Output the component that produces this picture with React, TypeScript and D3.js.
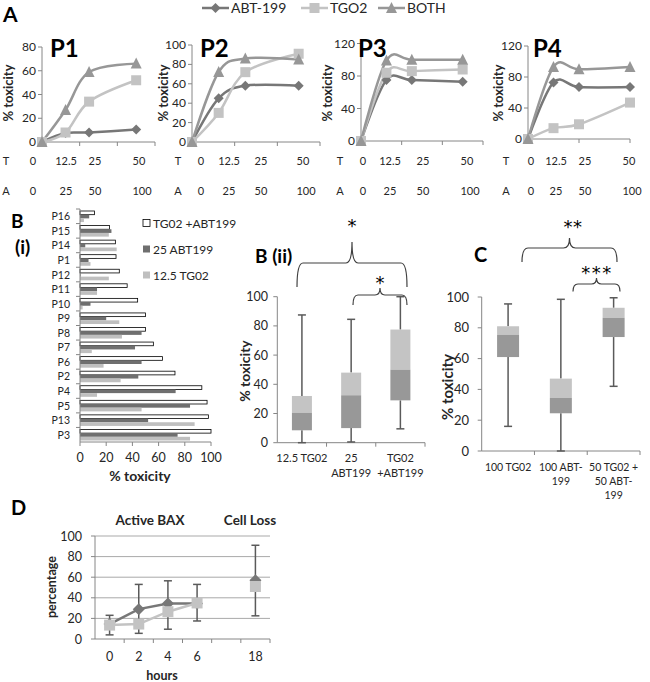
import React from 'react';
import * as d3 from 'd3';

const FONT = 'Lato, "Open Sans", Arial, sans-serif';
const STAR_FONT = '"DejaVu Sans", sans-serif';
const AXIS = '#868686';
const TXT = '#262626';
const C_ABT = '#777777';
const C_TGO = '#c3c3c3';
const C_BOTH = '#979797';
const WHISK = '#5a5a5a';
const BOX_HI = '#c4c4c4';
const BOX_LO = '#989898';

// ---------- Panel A ----------
const seriesA = ['ABT-199', 'TGO2', 'BOTH'];
const concX = [0, 12.5, 25, 50];
const tLabels = ['0', '12.5', '25', '50'];
const aLabels = ['0', '25', '50', '100'];
const patientsA = ['P1', 'P2', 'P3', 'P4'];
const p1Abt = [0, 7.5, 8, 10.5];
const p1Tgo = [0, 8, 34, 52];
const p1Both = [0, 27, 59, 66];
const p2Abt = [0, 45, 58, 58];
const p2Tgo = [0, 30, 72, 91];
const p2Both = [0, 72, 86, 85];
const p3Abt = [0, 75, 75, 73];
const p3Tgo = [0, 84, 86, 88];
const p3Both = [0, 99, 100, 100];
const p4Abt = [0, 73, 67, 67];
const p4Tgo = [0, 14, 19, 47];
const p4Both = [0, 93, 90, 93];
const yTicksP1 = [0, 20, 40, 60, 80];
const yTicksP2 = [0, 20, 40, 60, 80, 100];
const yTicksP34 = [0, 40, 80, 120];

// ---------- Panel B(i) ----------
const patientsB = ['P16', 'P15', 'P14', 'P1', 'P12', 'P11', 'P10', 'P9', 'P8', 'P7', 'P6', 'P2', 'P4', 'P5', 'P13', 'P3'];
const comboB = [11, 22.5, 27, 27.5, 30, 36, 44, 50, 50, 56, 63, 72.5, 93, 97, 98, 100];
const abtB = [7, 24, 4, 6.5, 0.5, 13, 8, 20, 47, 42, 47, 44.5, 73, 84, 52, 74.5];
const tgoB = [3, 22, 28, 8, 22, 13, 2, 30, 32, 9, 18, 31, 13, 47, 87.5, 84];
const seriesB = ['TG02 +ABT199', '25 ABT199', '12.5 TG02'];
const xTicksB = [0, 20, 40, 60, 80, 100];

// ---------- Panel B(ii) ----------
const boxCatsB = [['12.5 TG02'], ['25', 'ABT199'], ['TG02', '+ABT199']];
const boxMinB = [0, 0.5, 9.5];
const boxQ1B = [8.5, 10, 29];
const boxMedB = [20.5, 32.5, 50];
const boxQ3B = [32, 48, 77.5];
const boxMaxB = [87.5, 84.5, 100];

// ---------- Panel C ----------
const boxCatsC = [['100 TG02'], ['100 ABT-', '199'], ['50 TG02 +', '50 ABT-', '199']];
const boxMinC = [16, 0, 42];
const boxQ1C = [61, 24.5, 74];
const boxMedC = [75.5, 34.5, 86.5];
const boxQ3C = [81, 47, 93];
const boxMaxC = [95.5, 98.5, 99.5];
const yTicksBox = [0, 20, 40, 60, 80, 100];

// ---------- Panel D ----------
const hours = ['0', '2', '4', '6', '', '18'];
const baxDark: (number | null)[] = [14.5, 29, 34.5, 34.5, null, 57];
const baxLight: (number | null)[] = [13.5, 14.5, 26.5, 35, null, 51];
const errLow: (number | null)[] = [4, 5.5, 9.5, 17.5, null, 22.5];
const errHigh: (number | null)[] = [23, 53, 56.5, 53, null, 91];
const yTicksD = [0, 20, 40, 60, 80, 100];

const diamond = (cx: number, cy: number, r: number) => `M${cx},${cy - r}L${cx + r},${cy}L${cx},${cy + r}L${cx - r},${cy}Z`;
const square = (cx: number, cy: number, s: number) => `M${cx - s / 2},${cy - s / 2}h${s}v${s}h${-s}Z`;
const triangle = (cx: number, cy: number, s: number) => `M${cx},${cy - s * 0.55}L${cx + s / 2},${cy + s * 0.45}L${cx - s / 2},${cy + s * 0.45}Z`;

const brace = (x1: number, x2: number, y: number, yEnd: number, tipY: number, r = 6) => {
  const xm = (x1 + x2) / 2;
  return `M${x1},${yEnd}Q${x1},${y} ${x1 + r},${y}L${xm - r},${y}Q${xm},${y} ${xm},${tipY}Q${xm},${y} ${xm + r},${y}L${x2 - r},${y}Q${x2},${y} ${x2},${yEnd}`;
};

const layoutA = [
  { x0: 42, x1: 155, xMax: 60, xTicks: [20, 40, 60], y0: 142, y1: 47, yMax: 80, yTicks: yTicksP1, titleX: 50, ylabX: 8, rowX: [6, 33, 66, 95, 139] },
  { x0: 192, x1: 320, xMax: 60, xTicks: [20, 40, 60], y0: 142, y1: 45, yMax: 100, yTicks: yTicksP2, titleX: 200, ylabX: 163, rowX: [178, 201, 229, 261, 303] },
  { x0: 361, x1: 483, xMax: 60, xTicks: [20, 40, 60], y0: 141, y1: 43.5, yMax: 120, yTicks: yTicksP34, titleX: 358, ylabX: 327, rowX: [340, 363, 390, 423, 467] },
  { x0: 528, x1: 630, xMax: 50, xTicks: [25, 50], y0: 139, y1: 46, yMax: 120, yTicks: yTicksP34, titleX: 533, ylabX: 498, rowX: [506, 531, 556, 585, 629] },
];
const dataA = [
  [p1Abt, p1Tgo, p1Both],
  [p2Abt, p2Tgo, p2Both],
  [p3Abt, p3Tgo, p3Both],
  [p4Abt, p4Tgo, p4Both],
];

function PanelA({ idx }: { idx: number }) {
  const cfg = layoutA[idx];
  const [abt, tgo, both] = dataA[idx];
  const x = d3.scaleLinear().domain([0, cfg.xMax]).range([cfg.x0, cfg.x1]);
  const y = d3.scaleLinear().domain([0, cfg.yMax]).range([cfg.y0, cfg.y1]);
  const line = d3.line<number>().x((_, i) => x(concX[i])).y((d) => y(d)).curve(d3.curveCardinal.tension(0));
  return (
    <g>
      <line x1={cfg.x0} x2={cfg.x0} y1={cfg.y0} y2={cfg.y1} stroke={AXIS} />
      <line x1={cfg.x0} x2={cfg.x1} y1={cfg.y0} y2={cfg.y0} stroke={AXIS} />
      {cfg.yTicks.map((t) => (
        <g key={t}>
          <line x1={cfg.x0 - 4} x2={cfg.x0} y1={y(t)} y2={y(t)} stroke={AXIS} />
          <text x={cfg.x0 - 6} y={y(t) + 4} textAnchor="end" fontSize={12} fill={TXT}>{t}</text>
        </g>
      ))}
      {cfg.xTicks.map((t) => (
        <line key={t} x1={x(t)} x2={x(t)} y1={cfg.y0} y2={cfg.y0 + 4} stroke={AXIS} />
      ))}
      <path d={line(abt) || ''} fill="none" stroke={C_ABT} strokeWidth={2.5} />
      <path d={line(tgo) || ''} fill="none" stroke={C_TGO} strokeWidth={2.5} />
      <path d={line(both) || ''} fill="none" stroke={C_BOTH} strokeWidth={2.5} />
      {abt.map((d, i) => <path key={'a' + i} d={diamond(x(concX[i]), y(d), 5)} fill={C_ABT} />)}
      {tgo.map((d, i) => <path key={'t' + i} d={square(x(concX[i]), y(d), 10)} fill={C_TGO} />)}
      {both.map((d, i) => <path key={'b' + i} d={triangle(x(concX[i]), y(d), 11)} fill={C_BOTH} />)}
      <text x={cfg.titleX} y={57} fontSize={24} fontWeight="bold" fill="#000">{patientsA[idx]}</text>
      <text transform={`translate(${cfg.ylabX + 5},93) rotate(-90)`} textAnchor="middle" fontSize={13} fontWeight="bold" fill={TXT}>% toxicity</text>
      <text x={cfg.rowX[0]} y={165} textAnchor="middle" fontSize={11} fill={TXT}>T</text>
      <text x={cfg.rowX[0]} y={195} textAnchor="middle" fontSize={11} fill={TXT}>A</text>
      {tLabels.map((t, i) => <text key={'tl' + i} x={cfg.rowX[i + 1]} y={165} textAnchor="middle" fontSize={11} fill={TXT}>{t}</text>)}
      {aLabels.map((t, i) => <text key={'al' + i} x={cfg.rowX[i + 1] + (i === 3 ? 3 : 0)} y={195} textAnchor="middle" fontSize={11} fill={TXT}>{t}</text>)}
    </g>
  );
}

function LegendA() {
  const items = [
    { x: 202, col: C_ABT, mk: (cx: number) => diamond(cx, 8, 5) },
    { x: 301, col: C_TGO, mk: (cx: number) => square(cx, 8, 10) },
    { x: 378, col: C_BOTH, mk: (cx: number) => triangle(cx, 8, 11) },
  ];
  return (
    <g>
      {items.map((it, i) => (
        <g key={i}>
          <line x1={it.x} x2={it.x + 27} y1={8} y2={8} stroke={it.col} strokeWidth={2.5} />
          <path d={it.mk(it.x + 13.5)} fill={it.col} />
          <text x={it.x + 29} y={13} fontSize={14} fill={TXT}>{seriesA[i]}</text>
        </g>
      ))}
    </g>
  );
}

function PanelBi() {
  const x = d3.scaleLinear().domain([0, 100]).range([80, 211]);
  const y = d3.scaleBand().domain(patientsB).range([209, 442]);
  const sub = d3.scaleBand().domain(seriesB).range([2, y.bandwidth() - 1.5]);
  const vals = [comboB, abtB, tgoB];
  const fills = ['#ffffff', '#6f6f6f', '#bfbfbf'];
  return (
    <g>
      {patientsB.map((p, i) => (
        <g key={p}>
          {seriesB.map((s, j) => (
            <rect key={s} x={x(0)} y={(y(p) || 0) + (sub(s) || 0)} width={x(vals[j][i]) - x(0)} height={sub.bandwidth()}
              fill={fills[j]} stroke={j === 0 ? '#000' : 'none'} strokeWidth={0.8} />
          ))}
          <text x={70} y={(y(p) || 0) + y.bandwidth() / 2 + 4} textAnchor="end" fontSize={10.5} fill={TXT}>{p}</text>
        </g>
      ))}
      {patientsB.map((p) => (
        <line key={'t' + p} x1={76} x2={80} y1={y(p)} y2={y(p)} stroke={AXIS} />
      ))}
      <line x1={80} x2={80} y1={209} y2={442} stroke={AXIS} />
      <line x1={80} x2={211} y1={442} y2={442} stroke={AXIS} />
      {xTicksB.map((t) => (
        <g key={t}>
          <line x1={x(t)} x2={x(t)} y1={442} y2={446} stroke={AXIS} />
          <text x={x(t)} y={462} textAnchor="middle" fontSize={12.5} fill={TXT}>{t}</text>
        </g>
      ))}
      <text x={140} y={481} textAnchor="middle" fontSize={14} fontWeight="bold" fill={TXT}>% toxicity</text>
      {seriesB.map((s, j) => (
        <g key={s}>
          <rect x={143} y={219.5 + j * 26} width={7} height={7} fill={fills[j]} stroke={j === 0 ? '#000' : 'none'} strokeWidth={0.8} />
          <text x={153} y={227.5 + j * 26} fontSize={12} fill={TXT}>{s}</text>
        </g>
      ))}
    </g>
  );
}

function BoxPanel({ cats, mins, q1, med, q3, maxs, x0, x1, y0, y1, boxW, labelEnd, fs, catFs, catY, catDy }:
  { cats: string[][]; mins: number[]; q1: number[]; med: number[]; q3: number[]; maxs: number[]; x0: number; x1: number; y0: number; y1: number; boxW: number; labelEnd: number; fs: number; catFs: number; catY: number; catDy: number }) {
  const names = cats.map((c) => c.join(' '));
  const x = d3.scaleBand().domain(names).range([x0, x1]);
  const y = d3.scaleLinear().domain([0, 100]).range([y0, y1]);
  return (
    <g>
      <line x1={x0} x2={x0} y1={y0} y2={y1} stroke={AXIS} />
      <line x1={x0} x2={x1} y1={y0} y2={y0} stroke={AXIS} />
      {yTicksBox.map((t) => (
        <g key={t}>
          <line x1={x0 - 4} x2={x0} y1={y(t)} y2={y(t)} stroke={AXIS} />
          <text x={labelEnd} y={y(t) + 4.5} textAnchor="end" fontSize={fs} fill={TXT}>{t}</text>
        </g>
      ))}
      {names.map((n) => (
        <line key={'tk' + n} x1={(x(n) || 0) + x.bandwidth()} x2={(x(n) || 0) + x.bandwidth()} y1={y0} y2={y0 + 4} stroke={AXIS} />
      ))}
      {names.map((n, i) => {
        const cx = (x(n) || 0) + x.bandwidth() / 2;
        return (
          <g key={n}>
            <line x1={cx} x2={cx} y1={y(q3[i])} y2={y(maxs[i])} stroke={WHISK} strokeWidth={1.5} />
            <line x1={cx} x2={cx} y1={y(q1[i])} y2={y(mins[i])} stroke={WHISK} strokeWidth={1.5} />
            <line x1={cx - 4} x2={cx + 4} y1={y(maxs[i])} y2={y(maxs[i])} stroke={WHISK} strokeWidth={1.5} />
            <line x1={cx - 4} x2={cx + 4} y1={y(mins[i])} y2={y(mins[i])} stroke={WHISK} strokeWidth={1.5} />
            <rect x={cx - boxW / 2} y={y(q3[i])} width={boxW} height={y(med[i]) - y(q3[i])} fill={BOX_HI} />
            <rect x={cx - boxW / 2} y={y(med[i])} width={boxW} height={y(q1[i]) - y(med[i])} fill={BOX_LO} />
            {cats[i].map((ln, k) => (
              <text key={k} x={cx} y={catY + k * catDy} textAnchor="middle" fontSize={catFs} fill={TXT}>{ln}</text>
            ))}
          </g>
        );
      })}
    </g>
  );
}

function PanelD() {
  const x = d3.scaleBand().domain(hours.map((h, i) => 'c' + i)).range([95, 270]);
  const y = d3.scaleLinear().domain([0, 100]).range([639, 536]);
  const cx = (i: number) => (x('c' + i) || 0) + x.bandwidth() / 2;
  const line = d3.line<number | null>().defined((d) => d != null).x((_, i) => cx(i)).y((d) => y(d as number));
  return (
    <g>
      {yTicksD.filter((t) => t > 0).map((t) => (
        <line key={'g' + t} x1={95} x2={270} y1={y(t)} y2={y(t)} stroke="#a9a9a9" />
      ))}
      <line x1={95} x2={95} y1={639} y2={536} stroke={AXIS} />
      <line x1={95} x2={270} y1={639} y2={639} stroke={AXIS} />
      {yTicksD.map((t) => (
        <g key={t}>
          <line x1={91} x2={95} y1={y(t)} y2={y(t)} stroke={AXIS} />
          <text x={82} y={y(t) + 4.5} textAnchor="end" fontSize={12.5} fill={TXT}>{t}</text>
        </g>
      ))}
      {hours.map((h, i) => (
        <g key={'h' + i}>
          <line x1={(x('c' + i) || 0) + x.bandwidth()} x2={(x('c' + i) || 0) + x.bandwidth()} y1={639} y2={643} stroke={AXIS} />
          <text x={cx(i)} y={661} textAnchor="middle" fontSize={12.5} fill={TXT}>{h}</text>
        </g>
      ))}
      {errLow.map((lo, i) => lo == null ? null : (
        <g key={'e' + i}>
          <line x1={cx(i)} x2={cx(i)} y1={y(lo)} y2={y(errHigh[i] as number)} stroke={WHISK} strokeWidth={1.5} />
          <line x1={cx(i) - 4} x2={cx(i) + 4} y1={y(lo)} y2={y(lo)} stroke={WHISK} strokeWidth={1.5} />
          <line x1={cx(i) - 4} x2={cx(i) + 4} y1={y(errHigh[i] as number)} y2={y(errHigh[i] as number)} stroke={WHISK} strokeWidth={1.5} />
        </g>
      ))}
      <path d={line(baxDark) || ''} fill="none" stroke={C_ABT} strokeWidth={2.5} />
      {baxDark.map((d, i) => d == null ? null : <path key={'d' + i} d={diamond(cx(i), y(d), 6)} fill={C_ABT} />)}
      <path d={line(baxLight) || ''} fill="none" stroke={C_TGO} strokeWidth={2.5} />
      {baxLight.map((d, i) => d == null ? null : <path key={'l' + i} d={square(cx(i), y(d), 11)} fill={C_TGO} />)}
      <text transform="translate(56,587) rotate(-90)" textAnchor="middle" fontSize={12.5} fontWeight="bold" fill={TXT}>percentage</text>
      <text x={162} y={680} textAnchor="middle" fontSize={12.5} fontWeight="bold" fill={TXT}>hours</text>
      <text x={150} y={525} textAnchor="middle" fontSize={13.5} fontWeight="bold" fill={TXT}>Active BAX</text>
      <text x={250} y={525} textAnchor="middle" fontSize={13.5} fontWeight="bold" fill={TXT}>Cell Loss</text>
    </g>
  );
}

export default function App() {
  return (
    <svg width={650} height={682} style={{ position: 'absolute', left: 0, top: 0, background: '#fff' }} fontFamily={FONT}>
      <rect width={650} height={682} fill="#fff" />
      <text x={3} y={22} fontSize={21} fontWeight="bold" fill="#000">A</text>
      <LegendA />
      {layoutA.map((_, i) => <PanelA key={i} idx={i} />)}

      <text x={11} y={228} fontSize={19} fontWeight="bold" fill="#000">B</text>
      <text x={15} y={254} fontSize={19} fontWeight="bold" fill="#000">(i)</text>
      <PanelBi />

      <text x={255} y={263} fontSize={19} fontWeight="bold" fill="#000">B (ii)</text>
      <BoxPanel cats={boxCatsB} mins={boxMinB} q1={boxQ1B} med={boxMedB} q3={boxQ3B} maxs={boxMaxB}
        x0={277.3} x1={425} y0={442.7} y1={296.7} boxW={20} labelEnd={268} fs={12.5} catFs={11} catY={462} catDy={14.5} />
      <text transform="translate(250,371) rotate(-90)" textAnchor="middle" fontSize={14} fontWeight="bold" fill={TXT}>% toxicity</text>
      <path d={brace(297, 407, 263, 287, 242)} fill="none" stroke="#404040" strokeWidth={1.2} />
      <path d={brace(353, 407, 295, 305, 288, 5)} fill="none" stroke="#404040" strokeWidth={1.2} />
      <g fontFamily={STAR_FONT} fontSize={18} fill="#000" textAnchor="middle">
        <text x={352} y={232}>*</text>
        <text x={380} y={289}>*</text>
        <text x={573} y={233} letterSpacing={0.5}>**</text>
        <text x={597} y={279} letterSpacing={1.5}>***</text>
      </g>

      <text x={474} y={262} fontSize={20} fontWeight="bold" fill="#000">C</text>
      <BoxPanel cats={boxCatsC} mins={boxMinC} q1={boxQ1C} med={boxMedC} q3={boxQ3C} maxs={boxMaxC}
        x0={481.7} x1={640} y0={451} y1={297} boxW={22} labelEnd={469} fs={13} catFs={10.5} catY={470.5} catDy={14} />
      <text transform="translate(453,387) rotate(-90)" textAnchor="middle" fontSize={15} fontWeight="bold" fill={TXT}>% toxicity</text>
      <path d={brace(522, 617, 248, 262, 238)} fill="none" stroke="#404040" strokeWidth={1.2} />
      <path d={brace(573, 620, 284, 291.5, 278, 5)} fill="none" stroke="#404040" strokeWidth={1.2} />

      <text x={11} y={515} fontSize={20} fontWeight="bold" fill="#000">D</text>
      <PanelD />
    </svg>
  );
}
